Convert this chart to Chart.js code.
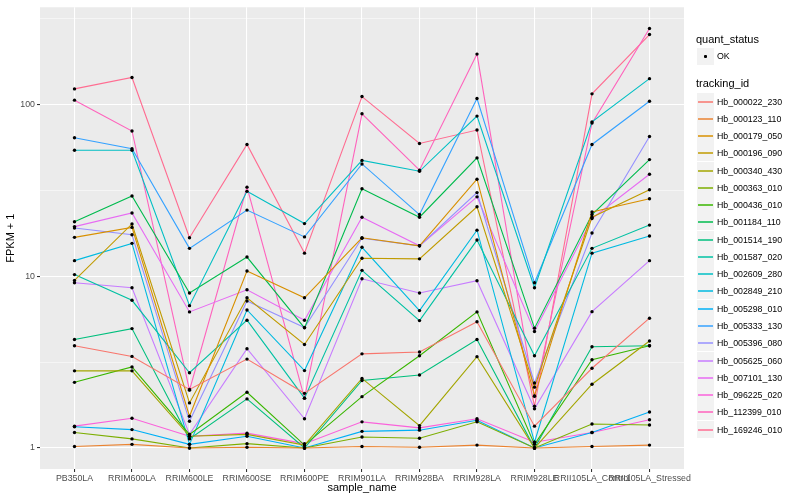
<!DOCTYPE html>
<html><head><meta charset="utf-8">
<script src="https://cdn.jsdelivr.net/npm/chart.js@4/dist/chart.umd.min.js"></script>
<style>
body{margin:0;background:#fff;}
#wrap{position:relative;width:800px;height:500px;overflow:hidden;}
canvas{position:absolute;left:0;top:0;}
.lg{position:absolute;font-family:'Liberation Sans',Arial,sans-serif;color:#000;white-space:nowrap;line-height:1;}
.key{position:absolute;background:#F2F2F2;width:17px;height:17px;}
</style></head><body>
<div id="wrap"><canvas id="c" width="800" height="500" style="width:800px;height:500px"></canvas><div id="legend"></div></div>
<script>
const categories = ['PB350LA','RRIM600LA','RRIM600LE','RRIM600SE','RRIM600PE','RRIM901LA','RRIM928BA','RRIM928LA','RRIM928LE','RRII105LA_Control','RRII105LA_Stressed'];
const yTickValues = [1, 10, 100];
const yTickLabels = ['1', '10', '100'];
const yMinorValues = [3.1623, 31.623, 316.23];
const quantLabels = ['OK'];
const seriesNames = ['Hb_000022_230','Hb_000123_110','Hb_000179_050','Hb_000196_090','Hb_000340_430','Hb_000363_010','Hb_000436_010','Hb_001184_110','Hb_001514_190','Hb_001587_020','Hb_002609_280','Hb_002849_210','Hb_005298_010','Hb_005333_130','Hb_005396_080','Hb_005625_060','Hb_007101_130','Hb_096225_020','Hb_112399_010','Hb_169246_010'];
const seriesColors = ['#F8766D','#EA8331','#D89000','#C09B00','#A3A500','#7CAE00','#39B600','#00BB4E','#00BF7D','#00C1A3','#00BFC4','#00BAE0','#00B0F6','#35A2FF','#9590FF','#C77CFF','#E76BF3','#FA62DB','#FF62BC','#FF6C91'];

const hb_000022_230 = [3.93, 3.41, 2.19, 3.29, 2.08, 3.53, 3.62, 5.42, 1.34, 2.91, 5.69];
const hb_000123_110 = [1.02, 1.05, 1.0, 1.01, 1.0, 1.02, 1.01, 1.04, 1.0, 1.02, 1.04];
const hb_000179_050 = [16.8, 19.2, 1.53, 10.7, 7.48, 16.7, 15.0, 36.6, 2.01, 23.6, 28.2];
const hb_000196_090 = [9.44, 20.1, 1.83, 7.48, 4.0, 12.7, 12.6, 25.3, 2.26, 22.0, 31.8];
const hb_000340_430 = [2.81, 2.81, 1.17, 1.2, 1.04, 2.54, 1.35, 3.4, 1.0, 2.35, 4.19];
const hb_000363_010 = [1.23, 1.13, 1.0, 1.06, 1.0, 1.16, 1.14, 1.42, 1.0, 1.38, 1.36];
const hb_000436_010 = [2.41, 2.96, 1.2, 2.11, 1.04, 1.99, 3.44, 6.19, 1.05, 3.26, 3.93];
const hb_001184_110 = [20.7, 29.2, 7.97, 12.9, 5.0, 32.2, 22.0, 48.7, 4.98, 22.8, 47.6];
const hb_001514_190 = [4.28, 4.95, 1.13, 1.93, 1.0, 2.47, 2.66, 4.28, 1.0, 3.88, 3.93];
const hb_001587_020 = [10.2, 7.23, 2.74, 5.54, 1.95, 10.8, 5.51, 16.2, 3.44, 14.5, 19.8];
const hb_002609_280 = [53.9, 53.9, 6.73, 31.1, 20.2, 47.1, 40.7, 85.2, 8.55, 78.9, 140.7];
const hb_002849_210 = [12.3, 15.5, 1.05, 6.35, 2.82, 14.7, 6.3, 18.5, 1.08, 13.6, 17.1];
const hb_005298_010 = [1.33, 1.28, 1.05, 1.17, 1.0, 1.25, 1.27, 1.45, 1.0, 1.23, 1.62];
const hb_005333_130 = [63.8, 55.1, 14.5, 24.2, 16.9, 44.9, 22.8, 107.8, 9.14, 58.3, 104];
const hb_005396_080 = [19.05, 17.4, 1.43, 7.17, 5.02, 16.6, 15.0, 30.6, 2.39, 17.8, 64.9];
const hb_005625_060 = [9.14, 8.55, 1.2, 3.78, 1.48, 9.64, 7.97, 9.4, 1.69, 6.21, 12.3];
const hb_007101_130 = [19.4, 23.3, 6.19, 8.33, 5.54, 22.0, 15.0, 28.9, 4.76, 21.6, 39.1];
const hb_096225_020 = [1.34, 1.49, 1.17, 1.22, 1.06, 1.42, 1.31, 1.48, 1.08, 1.23, 1.46];
const hb_112399_010 = [105.5, 69.8, 2.17, 32.9, 1.95, 87.9, 41.3, 195.5, 2.0, 77.6, 275.6];
const hb_169246_010 = [122.7, 143, 16.7, 58.3, 13.6, 110.7, 59.1, 70.7, 1.75, 114.8, 254];

const seriesValues = [hb_000022_230, hb_000123_110, hb_000179_050, hb_000196_090, hb_000340_430, hb_000363_010, hb_000436_010, hb_001184_110, hb_001514_190, hb_001587_020, hb_002609_280, hb_002849_210, hb_005298_010, hb_005333_130, hb_005396_080, hb_005625_060, hb_007101_130, hb_096225_020, hb_112399_010, hb_169246_010];

const FONT = "'Liberation Sans', Arial, sans-serif";

const lineSets = seriesValues.map((vals, i) => ({
  label: seriesNames[i],
  data: vals.map((v, j) => ({x: j, y: v})),
  borderColor: seriesColors[i],
  backgroundColor: seriesColors[i],
  borderWidth: 1.1,
  pointRadius: 0,
  fill: false,
  tension: 0,
  order: 1
}));
const pointSet = {
  label: 'points',
  data: seriesValues.flatMap(vals => vals.map((v, j) => ({x: j, y: v}))),
  showLine: false,
  pointRadius: 1.7,
  pointBackgroundColor: '#000',
  pointBorderWidth: 0,
  order: 0
};

const panelBg = {
  id: 'panelBg',
  beforeDraw(chart) {
    const {ctx, chartArea: a} = chart;
    ctx.save();
    ctx.fillStyle = '#EBEBEB';
    ctx.fillRect(a.left, a.top, a.right - a.left, a.bottom - a.top);
    ctx.restore();
  }
};

new Chart(document.getElementById('c'), {
  type: 'line',
  data: { datasets: [...lineSets, pointSet] },
  plugins: [panelBg],
  options: {
    responsive: false,
    animation: false,
    devicePixelRatio: 1,
    layout: { padding: { left: 0, top: 5, right: 116, bottom: 0 } },
    plugins: { legend: { display: false }, tooltip: { enabled: false } },
    scales: {
      x: {
        type: 'linear', min: -0.6, max: 10.6,
        afterBuildTicks: s => { s.ticks = categories.map((_, i) => ({ value: i })); },
        afterFit: s => { s.height = 31; },
        ticks: {
          callback: v => categories[v] !== undefined ? categories[v] : '',
          autoSkip: false, maxRotation: 0, minRotation: 0,
          color: '#4D4D4D', font: { size: 8.8, family: FONT }, padding: 1
        },
        grid: { color: '#FFFFFF', lineWidth: 1.07, tickColor: '#333333', tickLength: 3 },
        border: { display: false },
        title: { display: true, text: 'sample_name', color: '#000', font: { size: 11, family: FONT }, padding: { top: 1, bottom: 5 } }
      },
      y: {
        type: 'logarithmic', min: 0.755, max: 366,
        afterBuildTicks: s => {
          const all = [...yTickValues, ...yMinorValues].sort((a, b) => a - b);
          s.ticks = all.map(v => ({ value: v, major: yTickValues.includes(v) }));
        },
        afterFit: s => { s.width = 40; },
        ticks: {
          callback: v => { const k = yTickValues.indexOf(v); return k >= 0 ? yTickLabels[k] : ''; },
          autoSkip: false, color: '#4D4D4D', font: { size: 8.8, family: FONT }, padding: 2
        },
        grid: {
          color: '#FFFFFF',
          lineWidth: c => (c.tick && yTickValues.includes(c.tick.value)) ? 1.07 : 0.53,
          tickColor: c => (c.tick && yTickValues.includes(c.tick.value)) ? '#333333' : 'rgba(0,0,0,0)',
          tickLength: 3
        },
        border: { display: false },
        title: { display: true, text: 'FPKM + 1', color: '#000', font: { size: 11, family: FONT }, padding: { top: 4, bottom: 0 } }
      }
    }
  }
});

// legend
const lg = document.getElementById('legend');
function add(html) { lg.insertAdjacentHTML('beforeend', html); }
add(`<div class="lg" style="left:696px;top:34px;font-size:11px">quant_status</div>`);
add(`<div class="key" style="left:697px;top:48px"><div style="position:absolute;left:7px;top:7px;width:3px;height:3px;border-radius:1px;background:#000"></div></div>`);
add(`<div class="lg" style="left:717px;top:52px;font-size:8.8px">${quantLabels[0]}</div>`);
add(`<div class="lg" style="left:696px;top:78px;font-size:11px">tracking_id</div>`);
seriesNames.forEach((n, i) => {
  const top = Math.round(92.5 + i * 17.27);
  add(`<div class="key" style="left:697px;top:${top}px"><div style="position:absolute;left:1px;top:8px;width:15px;height:2px;background:${seriesColors[i]};opacity:0.75"></div></div>`);
  add(`<div class="lg" style="left:717px;top:${top + 4.5}px;font-size:8.8px">${n}</div>`);
});
</script>
</body></html>
